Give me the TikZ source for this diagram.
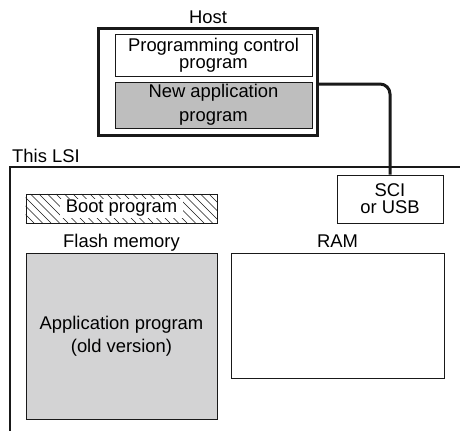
\documentclass[tikz,border=0pt]{standalone}
\usepackage{fontspec}
\setmainfont{Liberation Sans}
\usepackage{tikz}
\usetikzlibrary{positioning}
\definecolor{mydark}{RGB}{25,25,25}
\definecolor{newgray}{RGB}{190,190,190}
\definecolor{oldgray}{RGB}{211,211,212}
\tikzset{
  block/.style={rectangle, draw=mydark, line width=1pt, inner sep=0pt,
    align=center, font=\fontsize{18.4}{17}\selectfont},
  frame/.style={draw=mydark, line width=3pt},
  lsiline/.style={draw=mydark, line width=2pt},
  link/.style={draw=mydark, line width=3pt, rounded corners=10pt},
  hatch/.style={draw=mydark, line width=0.5pt},
  label/.style={font=\fontsize{18.4}{22}\selectfont, inner sep=0pt, anchor=base}
}

\begin{document}
\begin{tikzpicture}[x=1pt, y=-1pt]
  \useasboundingbox (0,0) rectangle (460,431);
  % Host
  \node[rectangle, frame, minimum width=219pt, minimum height=107pt] (host) at (207.5,81.5) {};
  \node[label] (hostlbl) at (208,23) {Host};
  \node[block, minimum width=197pt, minimum height=42pt] (ctrl) at (213.5,55)
    {Programming control\\program};
  \node[block, fill=newgray, minimum width=197pt, minimum height=46pt,
    font=\fontsize{18.4}{23}\selectfont] (newapp) at (213.5,105)
    {New application\\[1pt]program};
  % This LSI
  \draw[lsiline] (460,167) -- (10,167) -- (10,431);
  \node[label, anchor=base west] (lsilbl) at (12,162) {This LSI};
  \node[block, minimum width=106pt, minimum height=48pt] (sci) at (390,199) {SCI\\or USB};
  % Host to SCI
  \draw[link] ([yshift=-2.5pt]host.east) -| (sci.north);
  % Boot program (hatched)
  \node[block, minimum width=191pt, minimum height=29pt] (boot) at (121.5,208.5) {};
  \begin{scope}
    \clip (boot.south west) rectangle (boot.north east);
    \foreach \x in {-12,-3.5,...,220}
      \draw[hatch] (\x,194) -- (\x+29,223);
  \end{scope}
  \node[label, anchor=center, fill=white, inner xsep=6pt, inner ysep=1.5pt] (bootlbl) at (boot) {Boot program};
  % Memories
  \node[block, fill=oldgray, minimum width=191pt, minimum height=166pt,
    font=\fontsize{18.4}{23}\selectfont] (flash) at (121.5,336)
    {Application program\\(old version)};
  \node[block, minimum width=213pt, minimum height=125pt] (ram) at (337.5,315.5) {};
  \node[label] (flashlbl) at (flash.north |- 0,247) {Flash memory};
  \node[label] (ramlbl) at (ram.north |- 0,247) {RAM};
\end{tikzpicture}
\end{document}
